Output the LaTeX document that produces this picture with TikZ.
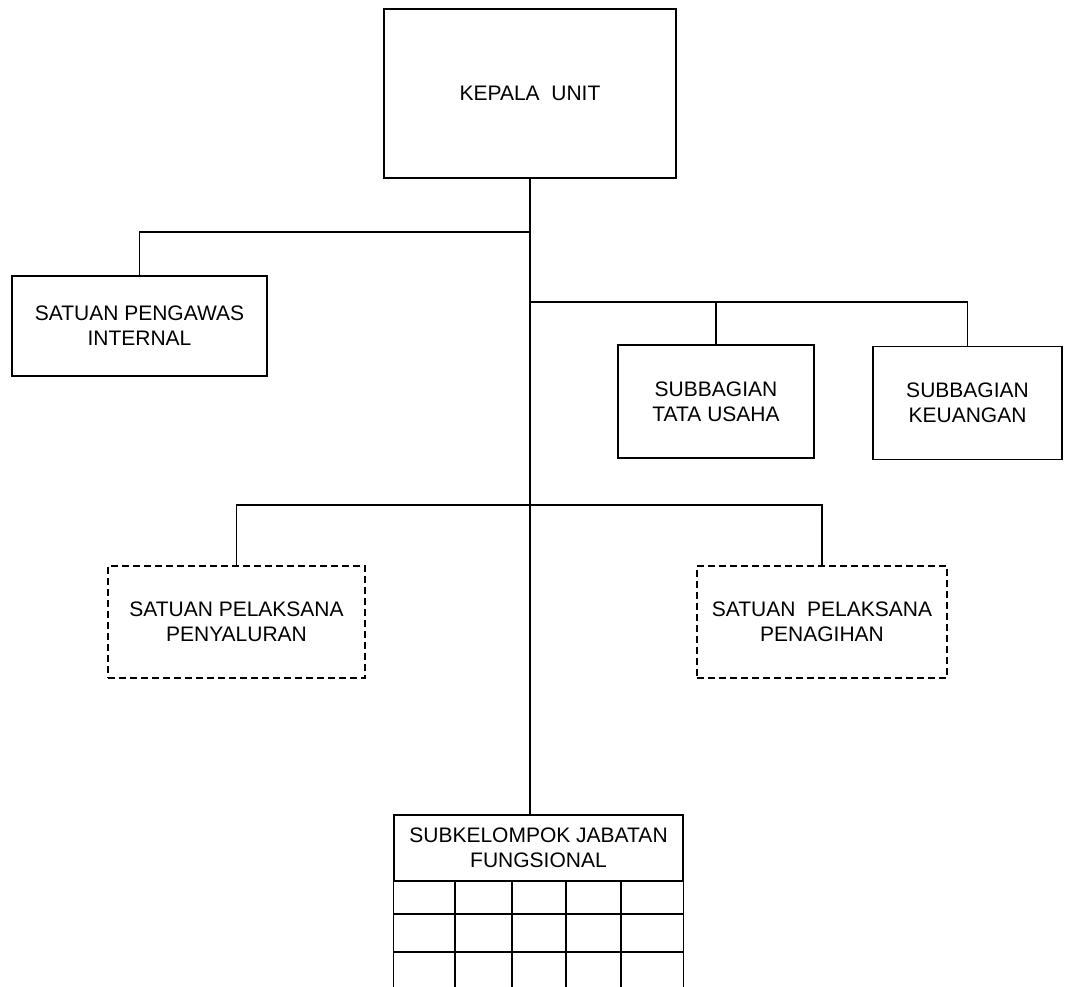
\documentclass[tikz,border=0pt]{standalone}
\usepackage{fontspec}
\setmainfont{Liberation Sans}
\begin{document}
\begin{tikzpicture}[x=1pt,y=-1pt,
  box/.style={draw, line width=1.3pt, rectangle, inner sep=0pt, align=center,
     font=\fontsize{21}{25}\selectfont},
  dbox/.style={box, line width=1.6pt, dash pattern=on 7pt off 4pt},
  conn/.style={line width=1.3pt}]
\useasboundingbox (0,0) rectangle (1065,987);
\fill[white] (0,0) rectangle (1065,987);
% boxes
\node[box, minimum width=292pt, minimum height=169pt] (kepala) at (530,93.5) {KEPALA\ \ UNIT};
\node[box, minimum width=255pt, minimum height=100pt] (spi) at (139.5,326) {SATUAN PENGAWAS\\INTERNAL};
\node[box, minimum width=196pt, minimum height=113pt] (tu) at (716,401.5) {SUBBAGIAN\\TATA USAHA};
\node[box, minimum width=189pt, minimum height=113pt] (keu) at (967.5,403) {SUBBAGIAN\\KEUANGAN};
\node[dbox, minimum width=257pt, minimum height=112pt] (spp) at (236.5,622) {SATUAN PELAKSANA\\PENYALURAN};
\node[dbox, minimum width=250pt, minimum height=112pt] (spn) at (822,622) {SATUAN\ \ PELAKSANA\\PENAGIHAN};
\node[box, minimum width=289pt, minimum height=66pt] (fung) at (538.5,848) {SUBKELOMPOK JABATAN\\FUNGSIONAL};
% grid below the header
\draw[conn] (fung.south west) -- ++(0,130);
\draw[conn] (fung.south east) -- ++(0,130);
\foreach \yy in {914,952,990} \draw[conn] (394,\yy) -- (683,\yy);
\foreach \xx in {455,512,566,621} \draw[conn] (\xx,881) -- (\xx,1000);
% connectors
\coordinate (j1) at (530,232);
\coordinate (j2) at (530,302);
\coordinate (j3) at (530,505);
\draw[conn] (kepala.south) -- (kepala.south |- fung.north);
\draw[conn] (j1) -| (spi.north);
\draw[conn] (j2) -| (tu.north);
\draw[conn] (j2) -| (keu.north);
\draw[conn] (j3) -| (spp.north);
\draw[conn] (j3) -| (spn.north);
\end{tikzpicture}
\end{document}
